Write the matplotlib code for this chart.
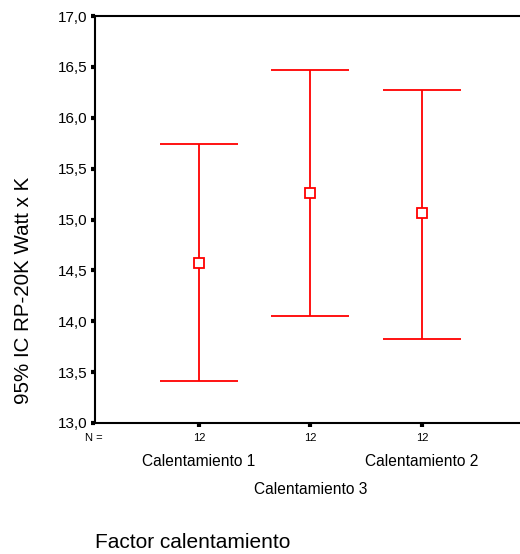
import matplotlib
matplotlib.use("Agg")
import matplotlib.pyplot as plt
import matplotlib.transforms as mtransforms

plt.rcParams['font.family'] = ['Liberation Sans', 'DejaVu Sans']

# data
categories = ['Calentamiento 1', 'Calentamiento 3', 'Calentamiento 2']
means = [14.57, 15.26, 15.06]
upper = [15.74, 16.47, 16.27]
lower = [13.41, 14.05, 13.83]
n_counts = [12, 12, 12]
yticks = [13.0, 13.5, 14.0, 14.5, 15.0, 15.5, 16.0, 16.5, 17.0]

red = '#ff0000'
x = [1, 2, 3]

fig = plt.figure(figsize=(5.2, 5.54), dpi=100)
ax = fig.add_axes([95/520, 1 - 423/554, 1 - 95/520, (423 - 16)/554])

err_lo = [m - l for m, l in zip(means, lower)]
err_hi = [u - m for u, m in zip(upper, means)]
ax.errorbar(x, means, yerr=[err_lo, err_hi], fmt='s', color=red, ecolor=red,
            elinewidth=1.3, capsize=28, capthick=1.3, markersize=7,
            markerfacecolor='white', markeredgecolor=red, markeredgewidth=1.3)

ax.set_xlim(0.067, 3.88)
ax.set_ylim(13.0, 17.0)
ax.set_yticks(yticks)
ax.set_yticklabels([('%.1f' % v).replace('.', ',') for v in yticks], fontsize=11)
ax.set_xticks(x)
ax.set_xticklabels([])
ax.tick_params(axis='both', direction='out', length=3, width=3, color='black')
ax.tick_params(axis='y', pad=2.5)
ax.spines['right'].set_visible(False)
for s in ['left', 'top', 'bottom']:
    ax.spines[s].set_linewidth(1.5)

trans = mtransforms.blended_transform_factory(ax.transData, fig.transFigure)
ax.text(0.058, 1 - 438/554, 'N =', transform=trans, fontsize=8, ha='center', va='center')
for xi, n in zip(x, n_counts):
    ax.text(xi, 1 - 438/554, str(n), transform=trans, fontsize=8, ha='center', va='center')
# staggered category labels like SPSS output
label_y = [461, 490, 461]
for xi, lab, ly in zip(x, categories, label_y):
    ax.text(xi, 1 - ly/554, lab, transform=trans, fontsize=11.2, ha='center', va='center')

fig.text(95/520, 1 - 543/554, 'Factor calentamiento', fontsize=15, ha='left', va='center')
fig.text(24/520, 1 - 290/554, '95% IC RP-20K Watt x K', fontsize=14.8, rotation=90,
         ha='center', va='center')

fig.savefig('out.png', dpi=100)
